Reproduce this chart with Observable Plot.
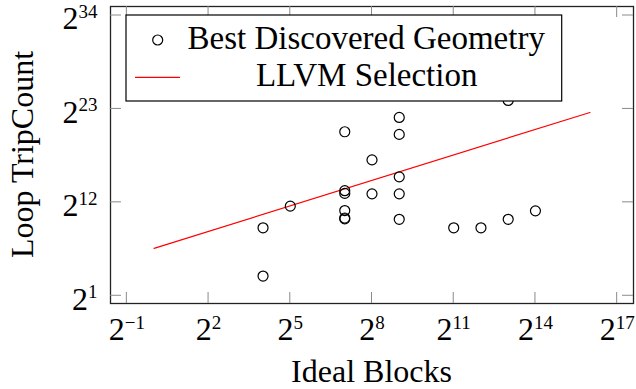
<!DOCTYPE html>
<html>
<head>
<meta charset="utf-8">
<script src="https://cdn.jsdelivr.net/npm/d3@7"></script>
<script src="https://cdn.jsdelivr.net/npm/@observablehq/plot@0.6"></script>
<style>
  body { margin: 0; background: #fff; }
  svg { display: block; }
</style>
</head>
<body>
<div id="chart"></div>
<script>
// Best discovered launch geometry: ideal block count vs. loop trip count
const idealBlocks = [16, 16, 32, 128, 128, 128, 128, 128, 128, 256, 256, 512, 512, 512, 512, 512, 2048, 4096, 8192, 8192, 16384];
const tripCount = [512, 10, 3000, 1300000, 10600, 8500, 2100, 1060, 1140, 131072, 8192, 4194304, 1048576, 32768, 8192, 1024, 512, 512, 1024, 16777216, 2048];

// LLVM's default selection
const llvmBlocks = [1, 65536];
const llvmTripCount = [96, 6291456];

// Axis ticks (powers of two)
const xTicks = [2 ** -1, 2 ** 2, 2 ** 5, 2 ** 8, 2 ** 11, 2 ** 14, 2 ** 17];
const yTicks = [2 ** 1, 2 ** 12, 2 ** 23, 2 ** 34];

const seriesNames = ["Best Discovered Geometry", "LLVM Selection"];
const xLabel = "Ideal Blocks";
const yLabel = "Loop TripCount";

const best = idealBlocks.map((b, i) => ({blocks: b, trips: tripCount[i]}));
const llvm = llvmBlocks.map((b, i) => ({blocks: b, trips: llvmTripCount[i]}));

const FONT = "'Liberation Serif', 'DejaVu Serif', serif";
const exponent = d => {
  const e = Math.round(Math.log2(d));
  return e < 0 ? "\u2212" + (-e) : String(e);
};

const M = {left: 110, right: 3, top: 6, bottom: 86};
const W = 636, H = 389;

const chart = Plot.plot({
  width: W,
  height: H,
  marginLeft: M.left,
  marginRight: M.right,
  marginTop: M.top,
  marginBottom: M.bottom,
  style: {fontFamily: FONT, background: "#fff", color: "#000"},
  x: {type: "log", base: 2, domain: [2 ** -1.6, 2 ** 17.6]},
  y: {type: "log", base: 2, domain: [2 ** 0.09, 2 ** 35.06]},
  marks: [
    Plot.axisX(xTicks, {anchor: "bottom", tickSize: 0, tickPadding: 14, fontSize: 32, tickFormat: exponent, label: null}),
    Plot.axisY(yTicks, {anchor: "left", tickSize: 0, tickPadding: 13, fontSize: 32, dy: 3.5, tickFormat: exponent, label: null}),
    Plot.line(llvm, {x: "blocks", y: "trips", stroke: "#ff0000", strokeWidth: 1.2}),
    Plot.dot(best, {x: "blocks", y: "trips", r: 5, stroke: "#000", strokeWidth: 1.2, fill: "none"}),
    Plot.frame({stroke: "#222", strokeWidth: 1.3})
  ]
});

document.getElementById("chart").appendChild(chart);

const svg = d3.select(chart);
const sx = chart.scale("x"), sy = chart.scale("y");
const x0 = M.left, x1 = W - M.right, y0 = M.top, y1 = H - M.bottom;

// Tick labels as 2 with a raised exponent
svg.selectAll('g[aria-label="x-axis tick label"] text, g[aria-label="y-axis tick label"] text').each(function () {
  const t = d3.select(this);
  const e = t.text();
  t.text("");
  t.append("tspan").text("2");
  t.append("tspan").attr("font-size", 19).attr("dy", -11.5).text(e);
});

// Inward tick marks on all four sides
const ticks = svg.append("g").attr("stroke", "#8a8a8a").attr("stroke-width", 1);
xTicks.forEach(v => {
  const x = sx.apply(v);
  ticks.append("line").attr("x1", x).attr("x2", x).attr("y1", y1).attr("y2", y1 - 11);
  ticks.append("line").attr("x1", x).attr("x2", x).attr("y1", y0).attr("y2", y0 + 11);
});
yTicks.forEach(v => {
  const y = sy.apply(v);
  ticks.append("line").attr("x1", x0).attr("x2", x0 + 11).attr("y1", y).attr("y2", y);
  ticks.append("line").attr("x1", x1).attr("x2", x1 - 11).attr("y1", y).attr("y2", y);
});

// Axis titles
svg.append("text")
  .attr("x", (x0 + x1) / 2).attr("y", 381.7)
  .attr("text-anchor", "middle").attr("font-size", 32).attr("font-family", FONT)
  .text(xLabel);
svg.append("text")
  .attr("transform", `translate(32.7,${(y0 + y1) / 2}) rotate(-90)`)
  .attr("text-anchor", "middle").attr("font-size", 32).attr("font-family", FONT)
  .text(yLabel);

// Legend
const lg = svg.append("g").attr("font-family", FONT).attr("font-size", 33);
lg.append("rect").attr("x", 126).attr("y", 15).attr("width", 435.7).attr("height", 86)
  .attr("fill", "#fff").attr("stroke", "#000").attr("stroke-width", 1.2);
lg.append("circle").attr("cx", 157.7).attr("cy", 40).attr("r", 5)
  .attr("fill", "none").attr("stroke", "#000").attr("stroke-width", 1.2);
lg.append("line").attr("x1", 135).attr("x2", 180).attr("y1", 77.3).attr("y2", 77.3)
  .attr("stroke", "#ff0000").attr("stroke-width", 1.2);
lg.append("text").attr("x", 366.2).attr("y", 49.3).attr("text-anchor", "middle").text(seriesNames[0]);
lg.append("text").attr("x", 366.7).attr("y", 86).attr("text-anchor", "middle").text(seriesNames[1]);
</script>
</body>
</html>
